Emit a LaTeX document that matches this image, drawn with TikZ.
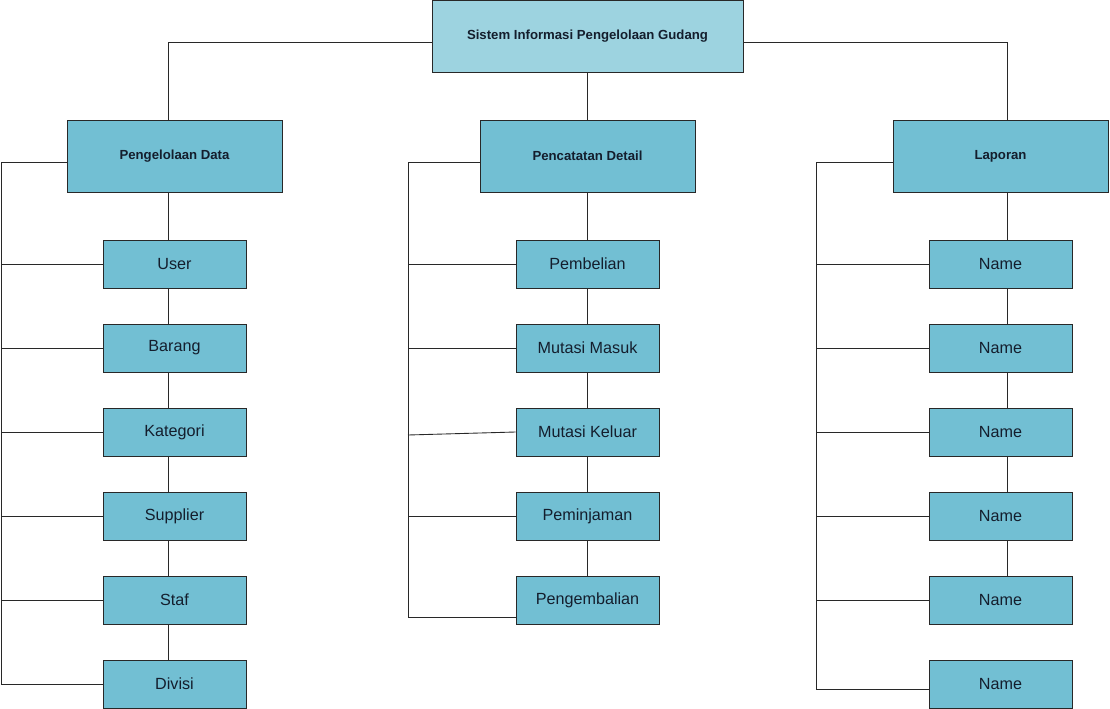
\documentclass[tikz,border=0pt]{standalone}
\usepackage{fontspec}
\setmainfont{Liberation Sans}
\usetikzlibrary{positioning,calc}
\definecolor{boxtop}{RGB}{157,211,224}
\definecolor{boxfill}{RGB}{114,191,211}
\definecolor{boxtext}{RGB}{20,30,45}
\definecolor{linec}{RGB}{40,40,40}

\begin{document}
\begin{tikzpicture}[
  rootbox/.style={rectangle,draw=linec,fill=boxtop,text=boxtext,line width=0.5pt,
                  font=\fontsize{7.5}{9}\selectfont\bfseries,
                  minimum width=6.22cm,minimum height=1.44cm,inner sep=2pt},
  groupbox/.style={rectangle,draw=linec,fill=boxfill,text=boxtext,line width=0.5pt,
                   font=\fontsize{7.5}{9}\selectfont\bfseries,
                   minimum width=4.3cm,minimum height=1.44cm,inner sep=2pt},
  itembox/.style={rectangle,draw=linec,fill=boxfill,text=boxtext,line width=0.5pt,
                  font=\fontsize{9.2}{11}\selectfont,
                  minimum width=2.86cm,minimum height=0.96cm,inner sep=2pt},
  conn/.style={linec,line width=0.5pt}]

  \useasboundingbox (0,0) rectangle (22.2,14.16);

  % bus lines of the three columns
  \coordinate (busL) at (0.02,0);
  \coordinate (busM) at (8.16,0);
  \coordinate (busR) at (16.32,0);
  % spines of the three columns
  \coordinate (spL) at (3.36,0);
  \coordinate (spM) at (11.74,0);
  \coordinate (spR) at (20.14,0);

  \node[rootbox] (SIPG) at (11.75,13.44) {Sistem Informasi Pengelolaan Gudang};

  \node[groupbox] (PD) at (3.49,11.04)  {Pengelolaan Data};
  \node[groupbox] (PC) at (11.75,11.04) {Pencatatan Detail};
  \node[groupbox] (LP) at (20.01,11.04) {Laporan};

  \node[itembox] (User)     at (3.49,8.88) {User};
  \node[itembox] (Barang)   at (3.49,7.20) {Barang};
  \node[itembox] (Kategori) at (3.49,5.52) {Kategori};
  \node[itembox] (Supplier) at (3.49,3.84) {Supplier};
  \node[itembox] (Staf)     at (3.49,2.16) {Staf};
  \node[itembox] (Divisi)   at (3.49,0.48) {Divisi};

  \node[itembox] (Beli)    at (11.75,8.88) {Pembelian};
  \node[itembox] (MMasuk)  at (11.75,7.20) {Mutasi Masuk};
  \node[itembox] (MKeluar) at (11.75,5.52) {Mutasi Keluar};
  \node[itembox] (Pinjam)  at (11.75,3.84) {Peminjaman};
  \node[itembox] (Kembali) at (11.75,2.16) {Pengembalian};

  \node[itembox] (Nm1) at (20.01,8.88) {Name};
  \node[itembox] (Nm2) at (20.01,7.20) {Name};
  \node[itembox] (Nm3) at (20.01,5.52) {Name};
  \node[itembox] (Nm4) at (20.01,3.84) {Name};
  \node[itembox] (Nm5) at (20.01,2.16) {Name};
  \node[itembox] (Nm6) at (20.01,0.48) {Name};

  % top level
  \draw[conn] ([yshift=-0.12cm]SIPG.west) -| (PD.north -| spL);
  \draw[conn] ([yshift=-0.12cm]SIPG.east) -| (LP.north -| spR);
  \draw[conn] (SIPG.south -| spM)--(PC.north -| spM);

  % vertical chains
  \draw[conn] (PD.south -| spL)--(User.north -| spL);
  \draw[conn] (User.south -| spL)--(Barang.north -| spL);
  \draw[conn] (Barang.south -| spL)--(Kategori.north -| spL);
  \draw[conn] (Kategori.south -| spL)--(Supplier.north -| spL);
  \draw[conn] (Supplier.south -| spL)--(Staf.north -| spL);
  \draw[conn] (Staf.south -| spL)--(Divisi.north -| spL);
  \draw[conn] (PC.south -| spM)--(Beli.north -| spM);
  \draw[conn] (Beli.south -| spM)--(MMasuk.north -| spM);
  \draw[conn] (MMasuk.south -| spM)--(MKeluar.north -| spM);
  \draw[conn] (MKeluar.south -| spM)--(Pinjam.north -| spM);
  \draw[conn] (Pinjam.south -| spM)--(Kembali.north -| spM);
  \draw[conn] (LP.south -| spR)--(Nm1.north -| spR);
  \draw[conn] (Nm1.south -| spR)--(Nm2.north -| spR);
  \draw[conn] (Nm2.south -| spR)--(Nm3.north -| spR);
  \draw[conn] (Nm3.south -| spR)--(Nm4.north -| spR);
  \draw[conn] (Nm4.south -| spR)--(Nm5.north -| spR);

  % side brackets
  \draw[conn] ([yshift=-0.12cm]PD.west) -| (Divisi.west -| busL) -- (Divisi.west);
  \draw[conn] (User.west -| busL) -- (User.west);
  \draw[conn] (Barang.west -| busL) -- (Barang.west);
  \draw[conn] (Kategori.west -| busL) -- (Kategori.west);
  \draw[conn] (Supplier.west -| busL) -- (Supplier.west);
  \draw[conn] (Staf.west -| busL) -- (Staf.west);

  \draw[conn] ([yshift=-0.12cm]PC.west) -| ([yshift=-0.34cm]Kembali.west -| busM)
    -- ([yshift=-0.34cm]Kembali.west);
  \draw[conn] (Beli.west -| busM) -- (Beli.west);
  \draw[conn] (MMasuk.west -| busM) -- (MMasuk.west);
  \draw[conn] ([yshift=-0.06cm]MKeluar.west -| busM) -- (MKeluar.west);
  \draw[conn] (Pinjam.west -| busM) -- (Pinjam.west);

  \draw[conn] ([yshift=-0.12cm]LP.west) -| ([yshift=-0.1cm]Nm6.west -| busR)
    -- ([yshift=-0.1cm]Nm6.west);
  \draw[conn] (Nm1.west -| busR) -- (Nm1.west);
  \draw[conn] (Nm2.west -| busR) -- (Nm2.west);
  \draw[conn] (Nm3.west -| busR) -- (Nm3.west);
  \draw[conn] (Nm4.west -| busR) -- (Nm4.west);
  \draw[conn] (Nm5.west -| busR) -- (Nm5.west);
\end{tikzpicture}
\end{document}
